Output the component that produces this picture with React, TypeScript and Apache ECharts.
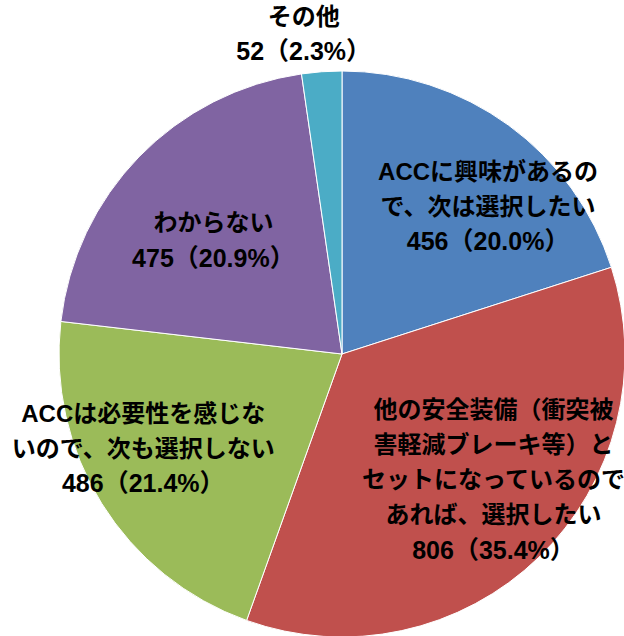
import React, { useEffect, useRef } from "react";
import * as echarts from "echarts";

const categories = [
  "ACCに興味があるの\nで、次は選択したい",
  "他の安全装備（衝突被\n害軽減ブレーキ等）と\nセットになっているので\nあれば、選択したい",
  "ACCは必要性を感じな\nいので、次も選択しない",
  "わからない",
  "その他",
];
const values = [456, 806, 486, 475, 52];
const colors = ["#4F81BD", "#C0504D", "#9BBB59", "#8064A2", "#4BACC6"];
// label nudges relative to the default inside position
const labelShift = [
  [61, -31],
  [51, 22],
  [-76, 18],
  [-25, -13],
  [-28, -176],
];

const FONT = "'Liberation Sans', 'Noto Sans CJK JP', sans-serif";

export default function App() {
  const ref = useRef<HTMLDivElement>(null);
  useEffect(() => {
    document.body.style.margin = "0";
    const chart = echarts.init(ref.current!, null, { renderer: "svg" });
    chart.setOption({
      animation: false,
      backgroundColor: "#ffffff",
      series: [
        {
          type: "pie",
          center: [342, 354],
          radius: 283,
          startAngle: 90,
          clockwise: true,
          percentPrecision: 1,
          itemStyle: { borderColor: "#ffffff", borderWidth: 1 },
          data: categories.map((name, i) => ({
            name,
            value: values[i],
            itemStyle: { color: colors[i] },
          })),
          label: {
            show: true,
            position: "inside",
            color: "#000",
            fontFamily: FONT,
            formatter: (p: any) => {
              const lines = String(p.name).split("\n").map((l) => `{n|${l}}`);
              lines.push(`{v|${p.value}（${p.percent.toFixed(1)}%）}`);
              return lines.join("\n");
            },
            rich: {
              n: {
                fontSize: 24,
                fontWeight: "bold",
                lineHeight: 35,
                color: "#000",
                fontFamily: FONT,
              },
              v: {
                fontSize: 25,
                fontWeight: "bold",
                lineHeight: 35,
                color: "#000",
                fontFamily: FONT,
              },
            },
          },
          labelLine: { show: false },
          labelLayout: (params: any) => ({
            dx: labelShift[params.dataIndex][0],
            dy: labelShift[params.dataIndex][1],
          }),
        },
      ],
    });
    return () => chart.dispose();
  }, []);
  return <div ref={ref} style={{ width: 624, height: 636 }} />;
}
